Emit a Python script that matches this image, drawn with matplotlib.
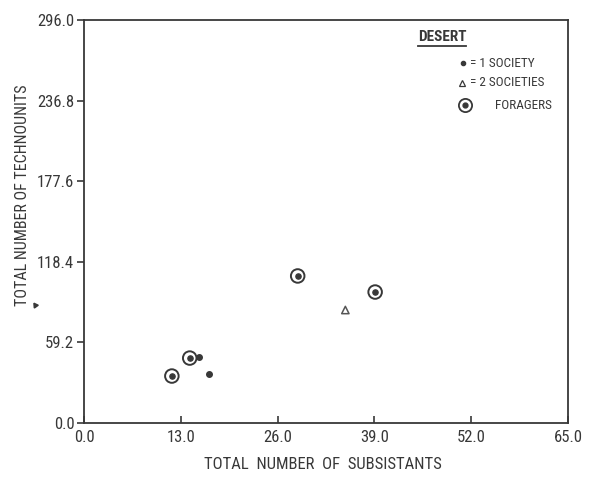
import matplotlib
matplotlib.use("Agg")
import matplotlib.pyplot as plt

# values
forager_x = [28.7, 39.1, 14.2, 11.8]
forager_y = [108.0, 96.2, 47.7, 34.5]
society_x = [15.4, 16.8]
society_y = [48.5, 36.0]
two_soc_x = [35.1]
two_soc_y = [83.0]

x_ticks = [0.0, 13.0, 26.0, 39.0, 52.0, 65.0]
y_ticks = [0.0, 59.2, 118.4, 177.6, 236.8, 296.0]

ink = "#383838"
plt.rcParams['font.family'] = ['Liberation Sans Narrow', 'Roboto Condensed', 'DejaVu Sans Condensed',
                               'Liberation Sans', 'DejaVu Sans']

fig = plt.figure(figsize=(5.97, 4.84), dpi=100)
ax = fig.add_axes([0.1407, 0.126, 0.8107, 0.8327])

# foragers: ring with a dot in the middle
ax.scatter(forager_x, forager_y, s=95, facecolors='none', edgecolors=ink, linewidths=1.4, zorder=3)
ax.scatter(forager_x, forager_y, s=14, color=ink, zorder=4)
ax.scatter(society_x, society_y, s=16, color=ink, zorder=3)
ax.scatter(two_soc_x, two_soc_y, s=28, marker='^', facecolors='none', edgecolors='#555555', linewidths=1.1, zorder=3)

ax.set_xlim(0, 65)
ax.set_ylim(0, 296)
ax.set_xticks(x_ticks)
ax.set_yticks(y_ticks)
ax.set_xticklabels(["%.1f" % v for v in x_ticks])
ax.set_yticklabels(["%.1f" % v for v in y_ticks])
ax.tick_params(axis='x', direction='in', length=5, width=1.2, colors=ink, labelsize=12, pad=5)
ax.tick_params(axis='y', direction='out', length=5, width=1.2, colors=ink, labelsize=12, pad=2)
for sp in ax.spines.values():
    sp.set_color(ink)
    sp.set_linewidth(1.3)

ax.set_xlabel("TOTAL  NUMBER  OF  SUBSISTANTS", fontsize=12, color=ink)
ax.xaxis.set_label_coords(0.494, -0.085)
ax.set_ylabel("TOTAL NUMBER OF TECHNOUNITS", fontsize=11.5, color=ink, va='center')
ax.yaxis.set_label_coords(-0.128, 0.566)

# legend drawn by hand, as in the original
tr = ax.transAxes
ax.text(0.740, 0.958, "DESERT", transform=tr, ha='center', va='center', fontsize=11, color=ink, fontweight='bold')
ax.plot([0.690, 0.790], [0.935, 0.935], transform=tr, color=ink, lw=1.3)
ax.plot([0.783], [0.893], transform=tr, marker='o', ms=3, color=ink, ls='none')
ax.text(0.798, 0.893, "= 1 SOCIETY", transform=tr, va='center', fontsize=9.5, color=ink)
ax.plot([0.781], [0.844], transform=tr, marker='^', ms=5, mfc='none', mec=ink, mew=0.9, ls='none')
ax.text(0.798, 0.844, "= 2 SOCIETIES", transform=tr, va='center', fontsize=9.5, color=ink)
ax.plot([0.787], [0.789], transform=tr, marker='o', ms=9.5, mfc='none', mec=ink, mew=1.3, ls='none')
ax.plot([0.787], [0.789], transform=tr, marker='o', ms=3.5, color=ink, ls='none')
ax.text(0.849, 0.789, "FORAGERS", transform=tr, va='center', fontsize=9.5, color=ink)

# small stray mark next to the y label
ax.plot([-0.101], [0.293], transform=tr, marker=(3, 0, 35), ms=4, color=ink, clip_on=False)

fig.savefig("out.png", dpi=100)
